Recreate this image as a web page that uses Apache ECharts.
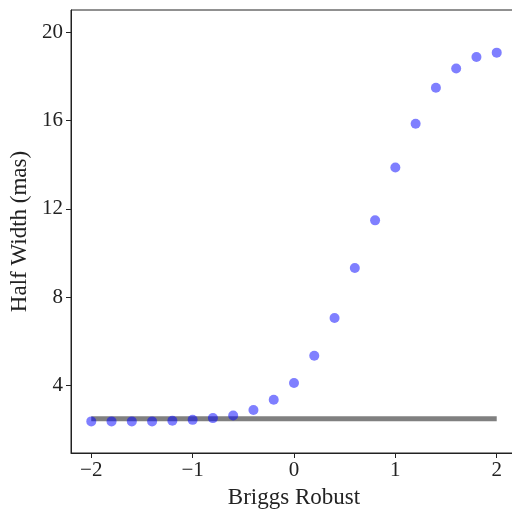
<!DOCTYPE html>
<html>
<head>
<meta charset="utf-8">
<script src="https://cdn.jsdelivr.net/npm/echarts@6/dist/echarts.min.js"></script>
<style>
	html, body { margin: 0; padding: 0; background: #fff; }
	#chart { width: 512px; height: 509px; }
</style>
</head>
<body>
<div id="chart"></div>
<script>
// robust parameter values
const robust = [-2, -1.8, -1.6, -1.4, -1.2, -1, -0.8, -0.6, -0.4, -0.2, 0, 0.2, 0.4, 0.6, 0.8, 1, 1.2, 1.4, 1.6, 1.8, 2];
// half width in mas
const halfWidth = [2.38, 2.38, 2.38, 2.38, 2.41, 2.45, 2.53, 2.65, 2.9, 3.36, 4.12, 5.35, 7.06, 9.32, 11.48, 13.87, 15.85, 17.48, 18.35, 18.87, 19.07];
// reference level
const refLevel = 2.5;
const refRange = [-2, 2];
const xTicks = [-2, -1, 0, 1, 2];
const yTicks = [4, 8, 12, 16, 20];

const font = "'Liberation Serif', 'DejaVu Serif', serif";
const minus = v => (v < 0 ? "\u2212" + Math.abs(v) : String(v));

const chart = echarts.init(document.getElementById("chart"));

chart.setOption({
	animation: false,
	grid: {
		left: 71,
		width: 446,
		top: 10,
		height: 443,
		containLabel: false,
		outerBoundsMode: "none",
		show: true,
		borderColor: "#222",
		borderWidth: 1,
	},
	xAxis: {
		type: "value",
		min: -2.2,
		max: 2.2,
		name: "Briggs Robust",
		nameLocation: "middle",
		nameGap: 33,
		nameTextStyle: { fontFamily: font, fontSize: 23, color: "#222" },
		axisLine: { onZero: false, lineStyle: { color: "#222" } },
		axisTick: { customValues: xTicks, length: 5, lineStyle: { color: "#222" } },
		axisLabel: {
			customValues: xTicks,
			formatter: minus,
			fontFamily: font,
			fontSize: 21,
			color: "#222",
			margin: 7,
		},
		splitLine: { show: false },
	},
	yAxis: {
		type: "value",
		min: 0.95,
		max: 21,
		name: "Half Width (mas)",
		nameLocation: "middle",
		nameGap: 38,
		nameTextStyle: { fontFamily: font, fontSize: 23, color: "#222" },
		axisLine: { show: true, onZero: false, lineStyle: { color: "#222" } },
		axisTick: { show: true, customValues: yTicks, length: 5, lineStyle: { color: "#222" } },
		axisLabel: {
			customValues: yTicks,
			fontFamily: font,
			fontSize: 21,
			color: "#222",
			margin: 8,
		},
		splitLine: { show: false },
	},
	series: [
		{
			type: "line",
			data: refRange.map(x => [x, refLevel]),
			symbol: "none",
			lineStyle: { color: "#808080", width: 5 },
			z: 1,
		},
		{
			type: "scatter",
			data: robust.map((x, i) => [x, halfWidth[i]]),
			symbolSize: 10,
			itemStyle: { color: "rgba(0,0,255,0.5)", opacity: 1 },
			z: 2,
		},
	],
});
</script>
</body>
</html>
